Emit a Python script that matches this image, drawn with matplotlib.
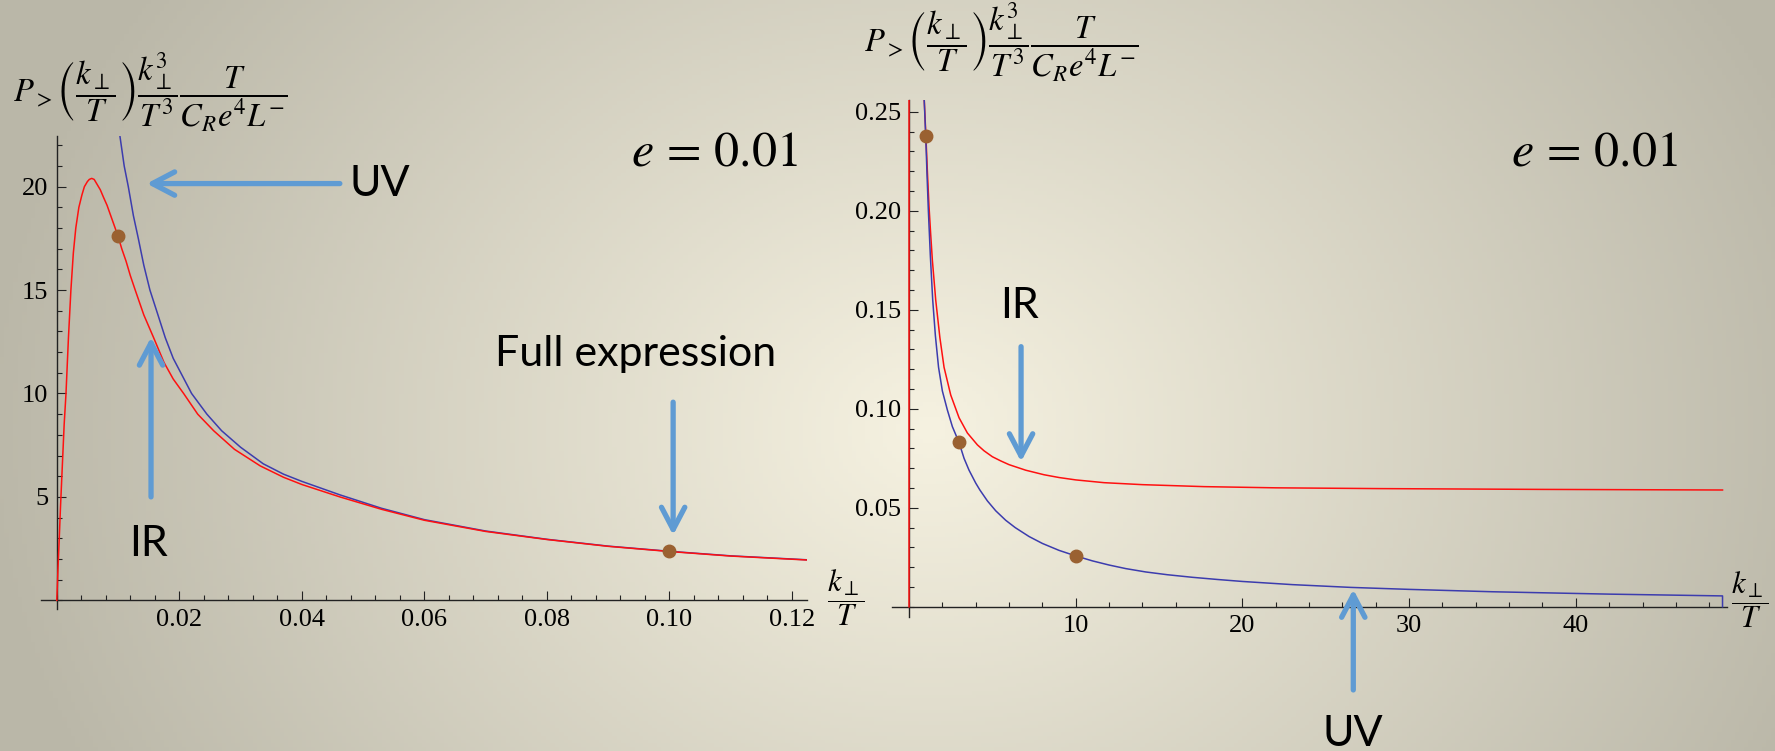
import numpy as np
import matplotlib
matplotlib.use('Agg')
import matplotlib.pyplot as plt
from matplotlib.ticker import MultipleLocator, FixedLocator

plt.rcParams['mathtext.fontset'] = 'stix'
plt.rcParams['font.family'] = ['Liberation Serif', 'DejaVu Serif']

# 왼쪽 그림 : k/T 작은 영역 (e = 0.01)
left_red_x = [0.0, 0.0002, 0.0004, 0.0006, 0.0009, 0.0012, 0.0015, 0.0019, 0.0023, 0.0027,
              0.0031, 0.0036, 0.0041, 0.0045, 0.0050, 0.0053, 0.0057, 0.0061, 0.0066, 0.0071,
              0.0076, 0.0082, 0.0088, 0.0094, 0.0100, 0.0106, 0.0113, 0.0120, 0.0128, 0.0142,
              0.0158, 0.0175, 0.0190, 0.0207, 0.0230, 0.0256, 0.0290, 0.0332, 0.0370, 0.0400,
              0.0462, 0.0530, 0.0600, 0.0700, 0.0800, 0.0900, 0.1000, 0.1100, 0.1224]
left_red_y = [0.0, 1.6, 3.0, 4.5, 6.5, 8.5, 10.0, 12.7, 15.0, 16.8,
              18.0, 19.0, 19.6, 20.0, 20.25, 20.35, 20.4, 20.35, 20.1, 19.85,
              19.5, 19.1, 18.6, 18.1, 17.6, 17.0, 16.4, 15.7, 15.0, 13.8,
              12.7, 11.5, 10.7, 10.0, 9.0, 8.2, 7.3, 6.5, 5.95, 5.6,
              5.0, 4.4, 3.87, 3.33, 2.94, 2.61, 2.36, 2.14, 1.95]
left_blue_x = [0.0103, 0.0110, 0.01167, 0.0125, 0.0133, 0.0142, 0.0152, 0.0164, 0.0177, 0.0190,
               0.0220, 0.0245, 0.0269, 0.0300, 0.0337, 0.0370, 0.0400, 0.0462, 0.0530, 0.0600,
               0.0700, 0.0800, 0.0900, 0.1000, 0.1100, 0.1224]
left_blue_y = [22.45, 21.0, 20.0, 18.6, 17.5, 16.2, 15.0, 13.9, 12.7, 11.7,
               10.0, 9.0, 8.2, 7.4, 6.6, 6.1, 5.75, 5.1, 4.45, 3.9,
               3.35, 2.95, 2.62, 2.37, 2.15, 1.96]
left_dot_x = [0.01, 0.1]
left_dot_y = [17.6, 2.37]

# 오른쪽 그림 : k/T 큰 영역
right_red_x = [0.0, 0.0057, 0.88, 1.0, 1.1, 1.2, 1.3, 1.4, 1.6, 1.85, 2.1, 2.5, 3.0, 3.5, 4.1,
               4.5, 5.0, 5.5, 6.0, 7.0, 8.1, 9.0, 10.0, 11.7, 14.0, 17.7, 22.0, 28.3, 38.0, 48.8]
right_red_y = [0.0, 20.4, 0.262, 0.240, 0.220, 0.202, 0.188, 0.175, 0.155, 0.136, 0.121, 0.107,
               0.0955, 0.0878, 0.0818, 0.0788, 0.0758, 0.0737, 0.0718, 0.0690, 0.0667, 0.0653,
               0.0641, 0.0627, 0.0617, 0.0607, 0.0601, 0.0597, 0.0593, 0.059]
right_blue_x = [0.88, 0.94, 1.0, 1.08, 1.16, 1.28, 1.42, 1.58, 1.77, 2.0, 2.3, 2.6, 3.0, 3.3,
                3.6, 4.0, 4.25, 4.7, 5.2, 5.8, 6.37, 7.2, 8.0, 9.0, 10.0, 11.0, 12.0, 13.0, 14.2,
                15.5, 17.0, 18.5, 20.0, 23.0, 26.5, 30.0, 35.0, 42.0, 48.8, 48.8]
right_blue_y = [0.262, 0.250, 0.238, 0.218, 0.200, 0.177, 0.155, 0.137, 0.121, 0.109, 0.0994,
                0.091, 0.083, 0.075, 0.069, 0.0625, 0.059, 0.0535, 0.0485, 0.0437, 0.040, 0.0355,
                0.032, 0.0285, 0.0257, 0.0232, 0.0211, 0.0193, 0.0176, 0.0162, 0.0149, 0.0138,
                0.0128, 0.0112, 0.0098, 0.0088, 0.0076, 0.0064, 0.0055, 0.0]
right_dot_x = [1, 3, 10]
right_dot_y = [0.238, 0.083, 0.0257]

left_xticks = [0.02, 0.04, 0.06, 0.08, 0.10, 0.12]
left_yticks = [5, 10, 15, 20]
right_xticks = [10, 20, 30, 40]
right_yticks = [0.05, 0.10, 0.15, 0.20, 0.25]

ylabel = (r'$P_{>}\left(\dfrac{k_\perp}{T}\right)\dfrac{k_\perp^3}{T^3}'
          r'\dfrac{T}{C_R e^4 L^{-}}$')
xlabel = r'$\dfrac{k_\perp}{T}$'

red = '#ff1010'
blue = '#3c3cae'
brown = '#9a6131'
arrow_c = '#5f9bd3'
sans = ['Lato', 'DejaVu Sans']

fig = plt.figure(figsize=(17.75, 7.51), dpi=100)

# 배경 그라데이션
bg = fig.add_axes([0, 0, 1, 1], zorder=-10)
gx, gy = np.meshgrid(np.linspace(0, 1775, 400), np.linspace(0, 751, 200))
t = np.clip(np.sqrt(((gx - 930) / 950) ** 2 + ((gy - 430) / 800) ** 2), 0, 1)
c0 = np.array([246, 242, 225]) / 255
c1 = np.array([186, 183, 168]) / 255
img = c0[None, None, :] * (1 - t[..., None]) + c1[None, None, :] * t[..., None]
bg.imshow(img, aspect='auto', extent=[0, 1, 0, 1])
bg.axis('off')


def style_axes(ax):
    ax.set_facecolor('none')
    for s in ['top', 'right']:
        ax.spines[s].set_visible(False)
    ax.spines['left'].set_position(('data', 0))
    ax.spines['bottom'].set_position(('data', 0))
    for s in ['left', 'bottom']:
        ax.spines[s].set_linewidth(1.0)
        ax.spines[s].set_color('#222222')
    ax.tick_params(which='major', direction='in', length=6.5, width=0.8, color='#222222',
                   labelsize=19, pad=6)
    ax.tick_params(which='minor', direction='in', length=3.8, width=0.8, color='#222222')


def arrow(ax, tip, tail):
    ax.annotate('', xy=tip, xytext=tail, annotation_clip=False,
                arrowprops=dict(arrowstyle='->,head_length=0.8,head_width=0.42',
                                lw=3.8, color=arrow_c, mutation_scale=20,
                                shrinkA=0, shrinkB=0))


# 왼쪽
ax1 = fig.add_axes([41 / 1775, 1 - 609 / 751, (806.7 - 41) / 1775, (609 - 136) / 751])
style_axes(ax1)
ax1.plot(left_blue_x, left_blue_y, color=blue, lw=1.1, zorder=3)
ax1.plot(left_red_x, left_red_y, color=red, lw=1.1, zorder=3)
ax1.plot(left_dot_x, left_dot_y, 'o', color=brown, ms=9, zorder=4)
ax1.set_xlim(-0.00258, 0.1224)
ax1.set_ylim(-0.42, 22.45)
ax1.xaxis.set_major_locator(FixedLocator(left_xticks))
ax1.xaxis.set_minor_locator(MultipleLocator(0.004))
ax1.yaxis.set_major_locator(FixedLocator(left_yticks))
ax1.yaxis.set_minor_locator(MultipleLocator(1))
ax1.set_xticklabels(['%.2f' % v for v in left_xticks])
ax1.set_yticklabels([str(v) for v in left_yticks])

fig.text(150 / 1775, 1 - 92 / 751, ylabel, fontsize=23.5, ha='center', va='center')
fig.text(846 / 1775, 1 - 598 / 751, xlabel, fontsize=22, ha='center', va='center')
ax1.text(0.1073, 21.6, r'$e\, =\, 0.01$', fontsize=36, ha='center', va='center')

arrow(ax1, (0.01468, 20.15), (0.0462, 20.15))
ax1.text(0.0478, 20.15, 'UV', family=sans, fontsize=31, ha='left', va='center')
arrow(ax1, (0.01538, 12.72), (0.01538, 5.0))
ax1.text(0.0149, 2.74, 'IR', family=sans, fontsize=31, ha='center', va='center')
arrow(ax1, (0.1006, 3.15), (0.1006, 9.58))
ax1.text(0.0944, 11.9, 'Full expression', family=sans, fontsize=31, ha='center', va='center')

# 오른쪽
ax2 = fig.add_axes([891.7 / 1775, 1 - 616.7 / 751, (1726.7 - 891.7) / 1775, (616.7 - 99.6) / 751])
style_axes(ax2)
ax2.plot(right_red_x, right_red_y, color=red, lw=1.1, zorder=3)
ax2.plot(right_blue_x, right_blue_y, color=blue, lw=1.1, zorder=3)
ax2.plot(right_dot_x, right_dot_y, 'o', color=brown, ms=9, zorder=4)
ax2.set_xlim(-1.04, 49.05)
ax2.set_ylim(-0.005, 0.2562)
ax2.xaxis.set_major_locator(FixedLocator(right_xticks))
ax2.xaxis.set_minor_locator(MultipleLocator(2))
ax2.yaxis.set_major_locator(FixedLocator(right_yticks))
ax2.yaxis.set_minor_locator(MultipleLocator(0.01))
ax2.set_xticklabels([str(v) for v in right_xticks])
ax2.set_yticklabels(['%.2f' % v for v in right_yticks])

fig.text(1001 / 1775, 1 - 42 / 751, ylabel, fontsize=23.5, ha='center', va='center')
fig.text(1750 / 1775, 1 - 600 / 751, xlabel, fontsize=22, ha='center', va='center')
ax2.text(41.1, 0.229, r'$e\, =\, 0.01$', fontsize=36, ha='center', va='center')

arrow(ax2, (6.72, 0.0733), (6.72, 0.1314))
ax2.text(6.6, 0.152, 'IR', family=sans, fontsize=31, ha='center', va='center')
arrow(ax2, (26.65, 0.0088), (26.65, -0.042))
ax2.text(26.65, -0.0642, 'UV', family=sans, fontsize=31, ha='center', va='center')

fig.savefig('out.png', dpi=100)
